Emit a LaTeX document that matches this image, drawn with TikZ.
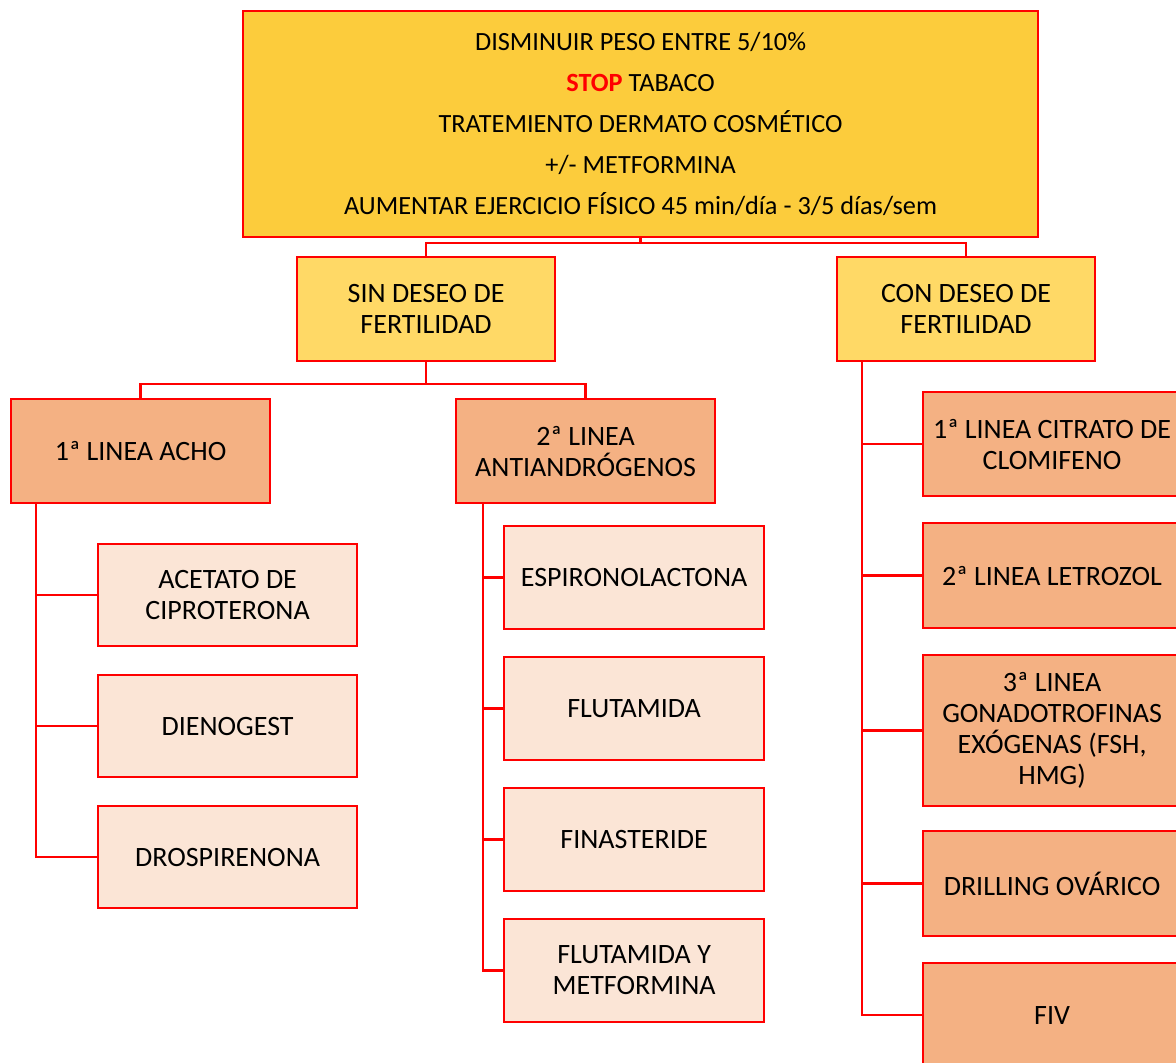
\documentclass[tikz,border=0pt]{standalone}
\usepackage{fontspec}
\setmainfont{Carlito}
\definecolor{topfill}{HTML}{FCCC3C}
\definecolor{midfill}{HTML}{FFD966}
\definecolor{orfill}{HTML}{F4B183}
\definecolor{leaffill}{HTML}{FBE5D6}
\definecolor{redline}{HTML}{FF0000}
\tikzset{
  box/.style={draw=redline, line width=2.2pt, anchor=north west, align=center, inner sep=2pt},
  topbox/.style={box, fill=topfill, font=\fontsize{26.3}{41}\selectfont},
  midbox/.style={box, fill=midfill, font=\fontsize{28}{31}\selectfont},
  orbox/.style={box, fill=orfill, font=\fontsize{28}{31}\selectfont},
  leafbox/.style={box, fill=leaffill, font=\fontsize{28}{31}\selectfont},
  conn/.style={draw=redline, line width=2.5pt},
}
\begin{document}
\begin{tikzpicture}[x=1pt,y=-1pt]
\useasboundingbox[clip] (0,0) rectangle (1176,1063);
\fill[white] (0,0) rectangle (1176,1063);
% top
\node[topbox, minimum width=795pt, minimum height=226pt] (top) at (242,10)
 {DISMINUIR PESO ENTRE 5/10\%\\ \textcolor{redline}{\textbf{STOP}} TABACO\\ TRATEMIENTO DERMATO COSMÉTICO\\ +/- METFORMINA\\ AUMENTAR EJERCICIO FÍSICO 45 min/día - 3/5 días/sem};
% level 2
\node[midbox, minimum width=258pt, minimum height=104pt] (sin) at (296,256) {SIN DESEO DE\\ FERTILIDAD};
\node[midbox, minimum width=258pt, minimum height=104pt] (con) at (836,256) {CON DESEO DE\\ FERTILIDAD};
% level 3 left
\node[orbox, minimum width=259pt, minimum height=104pt] (acho) at (10,398) {1ª LINEA ACHO};
\node[orbox, minimum width=259pt, minimum height=104pt] (anti) at (455,398) {2ª LINEA\\ ANTIANDRÓGENOS};
% acho children
\node[leafbox, minimum width=259pt, minimum height=102pt] (acet) at (97,543) {ACETATO DE\\ CIPROTERONA};
\node[leafbox, minimum width=259pt, minimum height=102pt] (dien) at (97,674) {DIENOGEST};
\node[leafbox, minimum width=259pt, minimum height=102pt] (dros) at (97,805) {DROSPIRENONA};
% anti children
\node[leafbox, minimum width=260pt, minimum height=103pt] (espi) at (503,525) {ESPIRONOLACTONA};
\node[leafbox, minimum width=260pt, minimum height=103pt] (flut) at (503,656) {FLUTAMIDA};
\node[leafbox, minimum width=260pt, minimum height=103pt] (fina) at (503,787) {FINASTERIDE};
\node[leafbox, minimum width=260pt, minimum height=103pt] (flme) at (503,918) {FLUTAMIDA Y\\ METFORMINA};
% con children
\node[orbox, minimum width=258pt, minimum height=104pt] (clom) at (922,391) {1ª LINEA CITRATO DE\\ CLOMIFENO};
\node[orbox, minimum width=258pt, minimum height=105pt] (letr) at (922,522) {2ª LINEA LETROZOL};
\node[orbox, minimum width=258pt, minimum height=151pt] (gona) at (922,654) {3ª LINEA\\ GONADOTROFINAS\\ EXÓGENAS (FSH,\\ HMG)};
\node[orbox, minimum width=258pt, minimum height=105pt] (dril) at (922,830) {DRILLING OVÁRICO};
\node[orbox, minimum width=258pt, minimum height=104pt] (fiv) at (922,962) {FIV};
% connectors
\coordinate (j1) at (0,243);
\coordinate (j2) at (0,384);
\draw[conn] (top.south) -- (top.south |- j1) -| (sin.north);
\draw[conn] (top.south |- j1) -| (con.north);
\draw[conn] (sin.south) -- (sin.south |- j2) -| (acho.north);
\draw[conn] (sin.south |- j2) -| (anti.north);
\foreach \c in {acet,dien,dros}{\draw[conn] ([xshift=26pt]acho.south west) |- (\c.west);}
\foreach \c in {espi,flut,fina,flme}{\draw[conn] ([xshift=28pt]anti.south west) |- (\c.west);}
\foreach \c in {clom,letr,gona,dril,fiv}{\draw[conn] ([xshift=26pt]con.south west) |- (\c.west);}
\end{tikzpicture}
\end{document}
